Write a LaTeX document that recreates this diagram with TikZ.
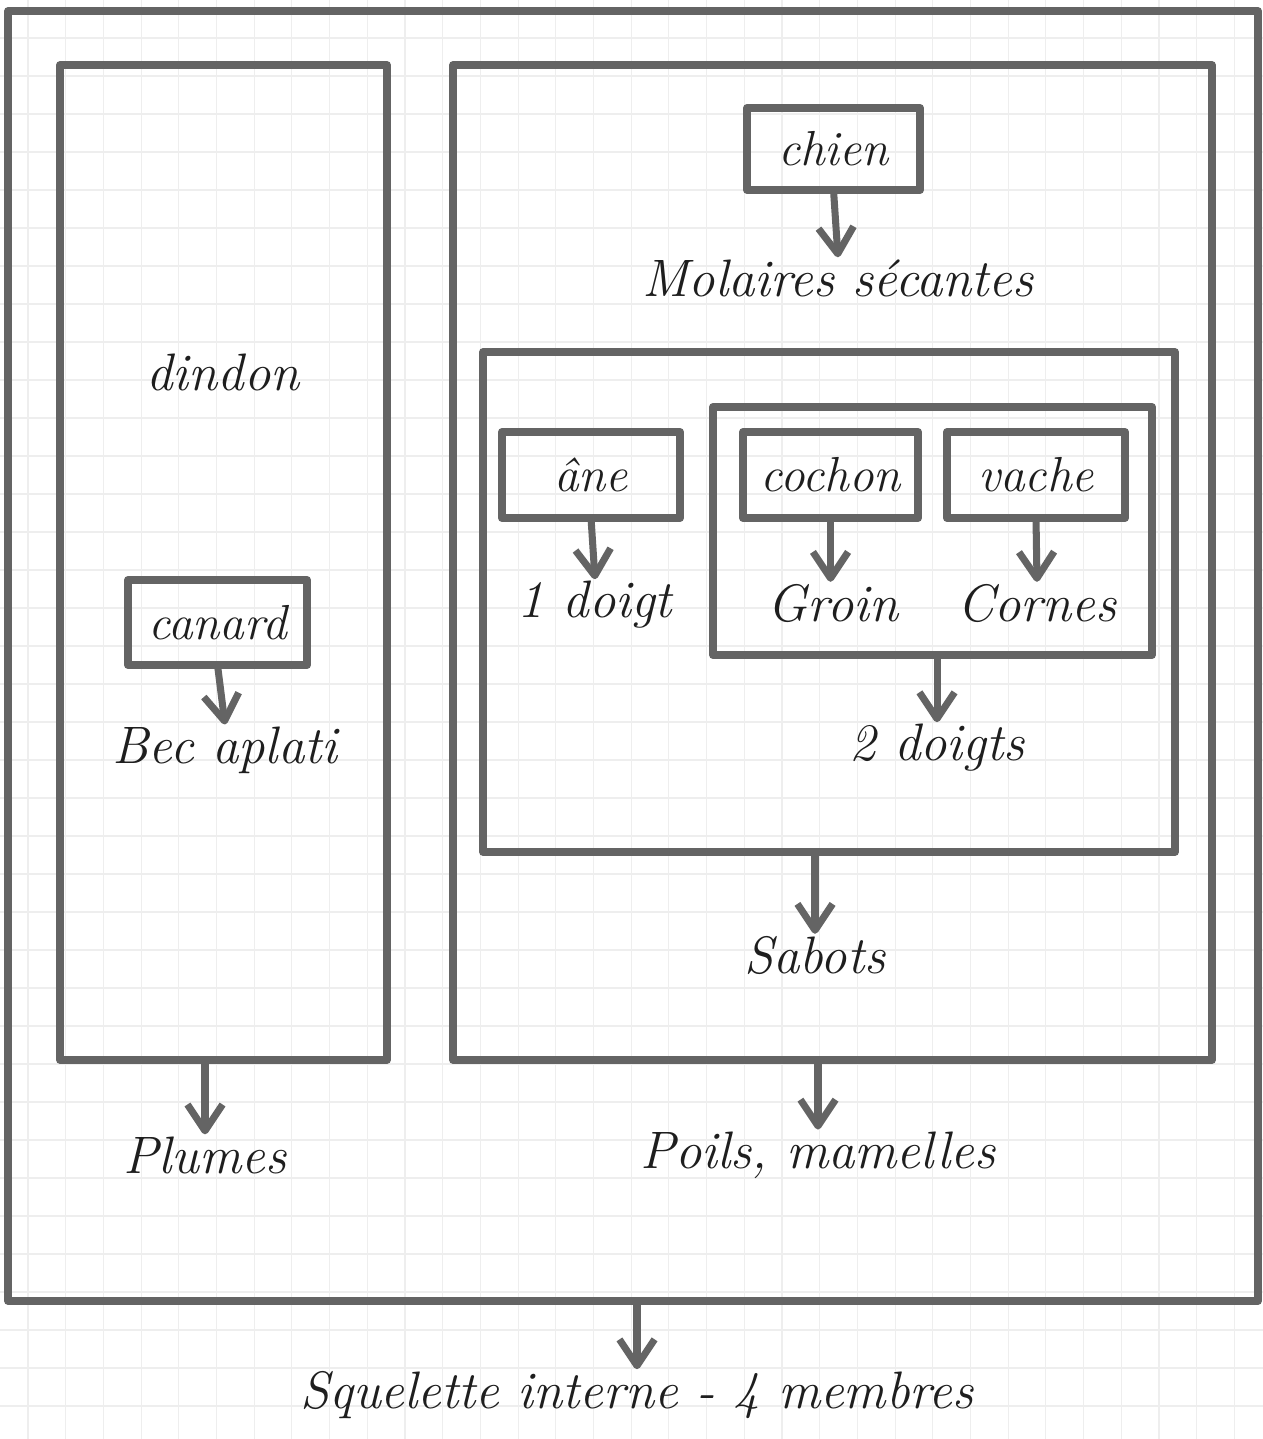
\documentclass[tikz,border=0pt]{standalone}
\usetikzlibrary{arrows.meta}
\definecolor{penGray}{RGB}{100,100,100}
\definecolor{gridGray}{RGB}{238,238,238}
\definecolor{inkBlack}{RGB}{30,30,30}
\begin{document}
\begin{tikzpicture}[x=0.02cm,y=-0.02cm,
    gridLine/.style={gridGray,line width=0.6pt},
    frame/.style={draw=penGray,line width=4.5pt,line join=round,line cap=round,inner sep=0pt,outer sep=0pt},
    animal/.style={frame,text=inkBlack,font=\fontsize{28}{32}\selectfont\itshape},
    trait/.style={text=inkBlack,font=\fontsize{30}{34}\selectfont\itshape,inner sep=1pt},
    arrow/.style={penGray,line width=4pt,line cap=round,-{Straight Barb[length=15pt,width=20pt,line join=round]}}]
    \fill[white] (0,0) rectangle (1263,1439);
    \useasboundingbox (0,0) rectangle (1263,1439);
    \foreach \i in {0,...,33} \draw[gridLine] ({28+37.7*\i},0) -- ++(0,1439);
    \foreach \j in {1,...,37} \draw[gridLine] (0,{38*\j}) -- ++(1263,0);

    % frames
    \node[frame,minimum width=25cm,minimum height=25.8cm] (vertebres) at (633,656) {};
    \node[frame,minimum width=6.54cm,minimum height=19.9cm] (oiseaux) at (223.5,562.5) {};
    \node[frame,minimum width=15.18cm,minimum height=19.9cm] (mammiferes) at (832.5,562.5) {};
    \node[frame,minimum width=13.84cm,minimum height=10cm] (ongules) at (829,602) {};
    \node[frame,minimum width=8.78cm,minimum height=4.96cm] (artiodactyles) at (932.5,531) {};

    % animals
    \node[animal,minimum width=3.46cm,minimum height=1.64cm] (chien) at (833.5,149) {chien};
    \node[animal,minimum width=3.56cm,minimum height=1.72cm] (ane) at (591,475) {âne};
    \node[animal,minimum width=3.5cm,minimum height=1.72cm] (cochon) at (830.5,475) {cochon};
    \node[animal,minimum width=3.56cm,minimum height=1.72cm] (vache) at (1036,475) {vache};
    \node[animal,minimum width=3.58cm,minimum height=1.7cm] (canard) at (217.5,622.5) {canard};
    \node[trait] (dindon) at (223,372) {dindon};

    % traits
    \node[trait] (molaires) at (838,278) {Molaires sécantes};
    \node[trait] (unDoigt) at (595,605) {1 doigt};
    \node[trait] (groin) at (833,603) {Groin};
    \node[trait] (cornes) at (1037,603) {Cornes};
    \node[trait] (deuxDoigts) at (937,748) {2 doigts};
    \node[trait] (sabots) at (815,955) {Sabots};
    \node[trait] (bec) at (225,750) {Bec aplati};
    \node[trait] (plumes) at (205,1155) {Plumes};
    \node[trait] (poils) at (818,1155) {Poils, mamelles};
    \node[trait] (squelette) at (637,1395) {Squelette interne - 4 membres};

    % arrows
    \draw[arrow] (chien.south) -- (molaires.north);
    \draw[arrow] (ane.south) -- (unDoigt.north);
    \draw[arrow] (cochon.south) -- (groin.north -| cochon.south);
    \draw[arrow] (vache.south) -- (cornes.north);
    \draw[arrow] (artiodactyles.south -| deuxDoigts.north) -- (deuxDoigts.north);
    \draw[arrow] (ongules.south -| sabots.north) -- (sabots.north);
    \draw[arrow] (canard.south) -- (bec.north);
    \draw[arrow] (oiseaux.south -| plumes.north) -- (plumes.north);
    \draw[arrow] (mammiferes.south -| poils.north) -- (poils.north);
    \draw[arrow] (vertebres.south -| squelette.north) -- (squelette.north);
\end{tikzpicture}
\end{document}
